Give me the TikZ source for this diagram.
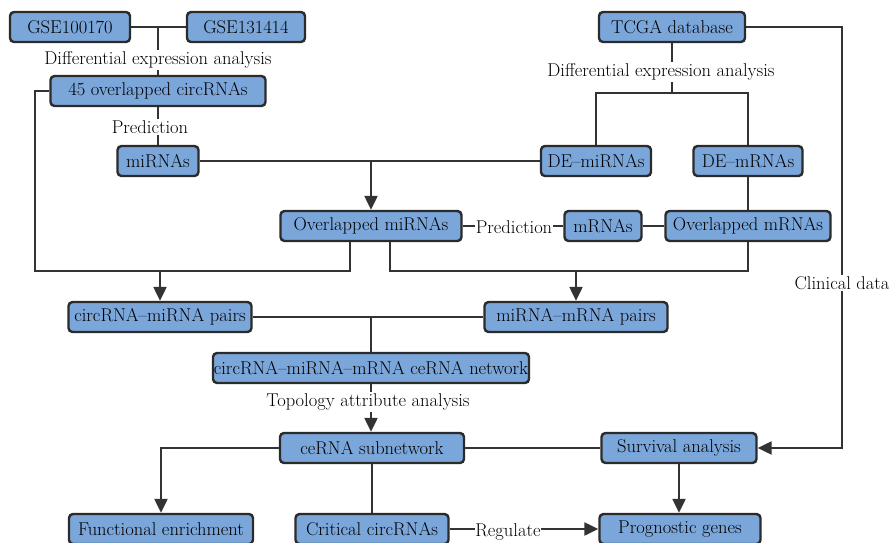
\documentclass[tikz,border=0pt]{standalone}
\usepackage{fontspec}
\setmainfont{Latin Modern Roman}
\usetikzlibrary{arrows.meta,backgrounds}
\definecolor{boxfill}{HTML}{7AA6DA}
\definecolor{boxline}{HTML}{2B2B2B}
\definecolor{conn}{HTML}{333333}
\tikzset{
  box/.style={draw=boxline, line width=2.4pt, fill=boxfill, rounded corners=4pt,
    minimum height=30pt, inner sep=0pt, text=black, font=\fontsize{18.5}{22}\selectfont},
  lbl/.style={fill=white, inner sep=1.5pt, text=black, font=\fontsize{18.5}{22}\selectfont},
  ln/.style={draw=conn, line width=2.3pt},
  arr/.style={ln, -{Triangle[length=14pt,width=13pt]}}
}
\begin{document}
\begin{tikzpicture}[x=1pt,y=-1pt]
\useasboundingbox (0,0) rectangle (889,543);
% boxes
\node[box, minimum width=120pt] (g1) at (70,27) {GSE100170};
\node[box, minimum width=118pt] (g2) at (246,27) {GSE131414};
\node[box, minimum width=146pt] (tcga) at (672,27) {TCGA database};
\node[box, minimum width=215pt] (c45) at (158,91) {45 overlapped circRNAs};
\node[box, minimum width=81pt] (mi) at (158,161) {miRNAs};
\node[box, minimum width=110pt] (demi) at (596,161) {DE--miRNAs};
\node[box, minimum width=109pt] (demr) at (748,161) {DE--mRNAs};
\node[box, minimum width=181pt] (ovmi) at (371,226) {Overlapped miRNAs};
\node[box, minimum width=77pt] (mr) at (603,226) {mRNAs};
\node[box, minimum width=165pt] (ovmr) at (748,226) {Overlapped mRNAs};
\node[box, minimum width=183pt] (cmp) at (160,317) {circRNA--miRNA pairs};
\node[box, minimum width=183pt] (mmp) at (576,317) {miRNA--mRNA pairs};
\node[box, minimum width=316pt] (net) at (371,368) {circRNA--miRNA--mRNA ceRNA network};
\node[box, minimum width=184pt] (sub) at (372,448) {ceRNA subnetwork};
\node[box, minimum width=155pt] (surv) at (679,448) {Survival analysis};
\node[box, minimum width=184pt] (fe) at (161,529) {Functional enrichment};
\node[box, minimum width=153pt] (cc) at (372,529) {Critical circRNAs};
\node[box, minimum width=161pt] (pg) at (680,529) {Prognostic genes};
% labels
\node[lbl] (lde1) at (158,60) {Differential expression analysis};
\node[lbl] (lp1) at (150,127) {Prediction};
\node[lbl] (lde2) at (661,72) {Differential expression analysis};
\node[lbl, inner sep=0.5pt] (lp2) at (514,227) {Prediction};
\node[lbl] (clin) at (842,283) {Clinical data};
\node[lbl] (topo) at (368,402) {Topology attribute analysis};
\node[lbl, inner sep=0.5pt] (reg) at (508,532) {Regulate};
\coordinate (lx) at (35,271);
\coordinate (hy) at (596,93);
% connectors
\begin{pgfonlayer}{background}
\fill[white] (0,0) rectangle (889,543);
\draw[ln] (g1) -- (g2);
\draw[ln] (lde1 |- g1) -- (lde1 |- c45.north);
\draw[ln] (c45.south) -- (mi.north);
\draw[ln] (c45.west) -| (lx) -| ([xshift=-21pt]ovmi.south);
\draw[arr] (cmp |- lx) -- (cmp.north);
\draw[ln] ([xshift=19pt]ovmi.south) |- (ovmr |- lx) -- (ovmr.south);
\draw[arr] (mmp |- lx) -- (mmp.north);
\draw[ln] (mi) -- (demi);
\draw[arr] (ovmi |- mi) -- (ovmi.north);
\draw[ln] (tcga.south) -- (tcga |- hy);
\draw[ln] (demi.north) |- (demr |- hy) -- (demr.north);
\draw[ln] (demr) -- (ovmr);
\draw[ln] (ovmi) -- (mr);
\draw[ln] (mr) -- (ovmr);
\draw[arr] (tcga.east) -| (clin) |- (surv.east);
\draw[ln] (cmp) -- (mmp);
\draw[ln] (net.north |- cmp) -- (net.north);
\draw[arr] (net.south) -- (net.south |- sub.north);
\draw[ln] (sub) -- (surv);
\draw[arr] (sub.west) -| (fe.north);
\draw[ln] (sub) -- (cc);
\draw[arr] (cc) -- (pg);
\draw[arr] (surv.south) -- (surv.south |- pg.north);
\end{pgfonlayer}
\end{tikzpicture}
\end{document}
